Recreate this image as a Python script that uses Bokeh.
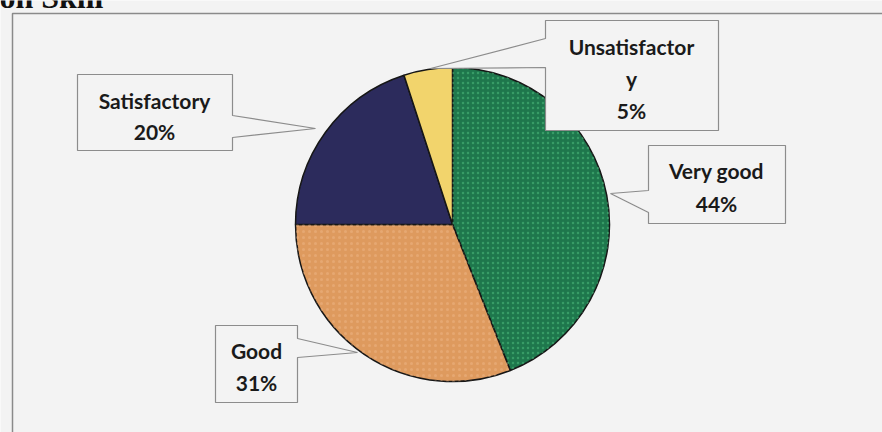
import math
from bokeh.plotting import figure
from bokeh.models import Range1d, ColumnDataSource
from bokeh.core.properties import value
from bokeh.embed import file_html
from bokeh.resources import INLINE

# ---- data ----
categories = ["Very good", "Good", "Satisfactory", "Unsatisfactory"]
percents = [44, 31, 20, 5]
label_lines = [["Very good", "44%"], ["Good", "31%"], ["Satisfactory", "20%"], ["Unsatisfactor", "y", "5%"]]
colors = ["#1e774c", "#de9a5e", "#2c2b5c", "#f2d46c"]
title_text = "Communication Skill"

W, H = 882, 432
BG = "#f3f3f3"

def px(xp):
    return xp

def py(yp):
    return H - yp

p = figure(width=W, height=H, output_backend="svg", toolbar_location=None,
           x_range=Range1d(0, W), y_range=Range1d(0, H), min_border=0)
p.axis.visible = False
p.grid.visible = False
p.outline_line_color = None
p.background_fill_color = BG
p.border_fill_color = BG

# partially visible title (cut off at the top edge, as in the source image)
p.text(x=[px(103)], y=[py(-4)], text=[title_text], text_font=value("Liberation Serif"),
       text_font_style="bold", text_font_size="32px", text_align="right",
       text_baseline="alphabetic", text_color="#111111")

# chart frame
p.line(x=[px(12), px(12), px(900)], y=[py(440), py(13), py(13)], line_color="#8a8a8a", line_width=1.5)

# ---- pie ----
cx, cy, r = px(452), py(224), 157
total = sum(percents)
starts, ends = [], []
acc = 0.0
for v in percents:
    starts.append(math.pi / 2 - 2 * math.pi * acc / total)
    acc += v
    ends.append(math.pi / 2 - 2 * math.pi * acc / total)

src = ColumnDataSource(dict(cat=categories, start=starts, end=ends, color=colors,
                            x=[cx] * 4, y=[cy] * 4))
p.wedge(x="x", y="y", radius=r, start_angle="start", end_angle="end", direction="clock",
        fill_color="color", line_color="#161616", line_width=1.5, source=src)
# speckled texture on green and orange slices
p.wedge(x=[cx], y=[cy], radius=r, start_angle=[starts[0]], end_angle=[ends[0]], direction="clock",
        fill_alpha=0, line_alpha=0, hatch_pattern="dot", hatch_color="#4fbf7f", hatch_alpha=0.5,
        hatch_scale=5, hatch_weight=1)
p.wedge(x=[cx], y=[cy], radius=r, start_angle=[starts[1]], end_angle=[ends[1]], direction="clock",
        fill_alpha=0, line_alpha=0, hatch_pattern="dot", hatch_color="#f0b88a", hatch_alpha=0.45,
        hatch_scale=6, hatch_weight=1)

# ---- callout boxes (page pixel layout) ----
boxes = {
    "Very good": [(648, 145), (785, 145), (785, 223), (648, 223), (648, 212), (610, 193), (648, 190)],
    "Good": [(215, 325), (297, 325), (297, 338), (357, 352), (297, 357), (297, 402), (215, 402)],
    "Satisfactory": [(77, 74), (232, 74), (232, 115), (315, 128), (232, 137), (232, 150), (77, 150)],
    "Unsatisfactory": [(545, 20), (718, 20), (718, 130), (545, 130), (545, 67), (430, 68), (545, 38)],
}
text_pos = {
    "Very good": (716, [170, 203]),
    "Good": (256, [350, 382]),
    "Satisfactory": (154, [100, 131]),
    "Unsatisfactory": (631, [46, 78, 110]),
}
for cat, lines in zip(categories, label_lines):
    pts = boxes[cat]
    p.patch(x=[px(a) for a, b in pts], y=[py(b) for a, b in pts],
            fill_color=BG, line_color="#8c8c8c", line_width=1.2)
    tx, tys = text_pos[cat]
    p.text(x=[px(tx)] * len(lines), y=[py(t) for t in tys], text=lines,
           text_font=value("Lato"), text_font_style="bold", text_font_size="21px",
           text_align="center", text_baseline="middle", text_color="#1a1a1a")

open("out.html", "w").write(file_html(p, INLINE))
